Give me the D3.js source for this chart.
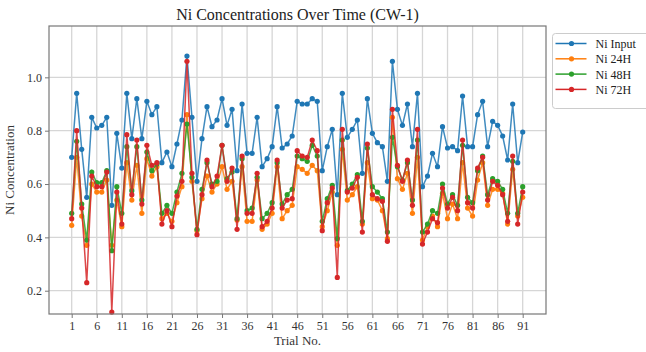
<!DOCTYPE html>
<html>
<head>
<meta charset="utf-8">
<script src="https://cdn.jsdelivr.net/npm/d3@7/dist/d3.min.js"></script>
<style>
  html, body { margin: 0; padding: 0; background: #fff; }
  svg { display: block; font-family: "Liberation Serif", "Times New Roman", serif; }
</style>
</head>
<body>
<svg id="chart" width="646" height="352"></svg>
<script>
// Trial numbers 1..91
const trials = d3.range(1, 92);

const niInput = [0.70,0.94,0.73,0.55,0.85,0.81,0.82,0.85,0.52,0.79,
  0.66,0.94,0.77,0.92,0.77,0.91,0.86,0.89,0.68,0.72,
  0.665,0.75,0.84,1.08,0.85,0.61,0.77,0.89,0.815,0.84,
  0.92,0.82,0.88,0.65,0.90,0.715,0.715,0.85,0.665,0.695,
  0.74,0.89,0.735,0.75,0.78,0.91,0.90,0.90,0.92,0.91,
  0.65,0.74,0.805,0.56,0.94,0.775,0.805,0.84,0.64,0.92,
  0.79,0.755,0.74,0.61,1.06,0.88,0.82,0.90,0.74,0.94,
  0.59,0.63,0.715,0.665,0.815,0.735,0.74,0.725,0.93,0.74,
  0.74,0.86,0.91,0.74,0.835,0.82,0.78,0.69,0.90,0.68,0.795];

const ni24H = [0.445,0.70,0.48,0.37,0.60,0.57,0.57,0.615,0.37,0.54,
  0.44,0.68,0.54,0.67,0.49,0.695,0.63,0.665,0.47,0.49,
  0.46,0.53,0.59,0.86,0.61,0.425,0.545,0.63,0.57,0.60,
  0.665,0.58,0.61,0.465,0.665,0.46,0.46,0.615,0.43,0.45,
  0.49,0.665,0.47,0.50,0.52,0.665,0.655,0.64,0.67,0.65,
  0.44,0.50,0.57,0.37,0.73,0.54,0.56,0.59,0.45,0.68,
  0.545,0.54,0.50,0.395,0.85,0.62,0.58,0.64,0.49,0.70,
  0.39,0.44,0.48,0.44,0.565,0.47,0.525,0.47,0.68,0.51,
  0.48,0.615,0.68,0.52,0.58,0.58,0.565,0.45,0.655,0.48,0.55];

const ni48H = [0.49,0.76,0.525,0.39,0.645,0.605,0.605,0.65,0.35,0.59,
  0.49,0.74,0.575,0.74,0.54,0.72,0.65,0.675,0.49,0.52,
  0.49,0.57,0.64,0.825,0.625,0.43,0.58,0.68,0.60,0.61,
  0.745,0.62,0.645,0.47,0.695,0.50,0.51,0.625,0.47,0.49,
  0.53,0.68,0.525,0.56,0.58,0.705,0.695,0.685,0.745,0.705,
  0.46,0.545,0.595,0.395,0.765,0.575,0.60,0.635,0.46,0.735,
  0.59,0.57,0.545,0.42,0.775,0.665,0.615,0.68,0.54,0.765,
  0.42,0.45,0.50,0.49,0.60,0.525,0.56,0.52,0.745,0.55,
  0.53,0.65,0.705,0.56,0.62,0.61,0.58,0.49,0.685,0.49,0.59];

const ni72H = [0.47,0.80,0.51,0.23,0.63,0.59,0.59,0.645,0.12,0.57,
  0.45,0.785,0.56,0.765,0.525,0.745,0.67,0.68,0.45,0.50,
  0.44,0.555,0.61,1.06,0.64,0.41,0.56,0.69,0.59,0.63,
  0.745,0.61,0.66,0.43,0.705,0.49,0.49,0.64,0.44,0.46,
  0.51,0.69,0.51,0.54,0.545,0.725,0.705,0.70,0.765,0.725,
  0.425,0.53,0.585,0.25,0.805,0.57,0.585,0.625,0.42,0.75,
  0.56,0.545,0.535,0.385,0.88,0.67,0.61,0.69,0.52,0.805,
  0.375,0.42,0.47,0.455,0.585,0.51,0.55,0.50,0.765,0.53,
  0.51,0.66,0.70,0.54,0.61,0.595,0.56,0.46,0.705,0.45,0.57];

const seriesNames = ["Ni Input", "Ni 24H", "Ni 48H", "Ni 72H"];
const seriesColors = ["#1f77b4", "#ff7f0e", "#2ca02c", "#d62728"];
const xTickValues = d3.range(1, 92, 5);
const yTickValues = [0.2, 0.4, 0.6, 0.8, 1.0];

const series = [niInput, ni24H, ni48H, ni72H].map((vals, i) => ({
  name: seriesNames[i], color: seriesColors[i],
  points: trials.map((t, j) => ({ t, v: vals[j] }))
}));

const svg = d3.select("#chart");
const plot = { left: 49, right: 546, top: 26, bottom: 314 };

const x = d3.scaleLinear().domain([-3.53, 95.65]).range([plot.left, plot.right]);
const y = d3.scaleLinear().domain([0.1127, 1.1925]).range([plot.bottom, plot.top]);

// grid
const grid = svg.append("g");
grid.selectAll("line.vx").data(xTickValues).join("line")
  .attr("x1", d => x(d)).attr("x2", d => x(d))
  .attr("y1", plot.top).attr("y2", plot.bottom)
  .attr("stroke", "#d6d6d6").attr("stroke-width", 1.3);
grid.selectAll("line.hy").data(yTickValues).join("line")
  .attr("x1", plot.left).attr("x2", plot.right)
  .attr("y1", d => y(d)).attr("y2", d => y(d))
  .attr("stroke", "#d6d6d6").attr("stroke-width", 1.3);

// axes
const xAxis = d3.axisBottom(x).tickValues(xTickValues).tickSize(4).tickPadding(3).tickFormat(d3.format("d"));
const yAxis = d3.axisLeft(y).tickValues(yTickValues).tickSize(4).tickPadding(3).tickFormat(d3.format(".1f"));

const gx = svg.append("g").attr("transform", `translate(0,${plot.bottom})`).call(xAxis);
const gy = svg.append("g").attr("transform", `translate(${plot.left},0)`).call(yAxis);
[gx, gy].forEach(g => {
  g.select(".domain").remove();
  g.selectAll(".tick line").attr("stroke", "#777");
  g.selectAll(".tick text").attr("fill", "#333").style("font-size", "12px")
    .style("font-family", "'Liberation Serif', serif");
});

// series lines and markers
const line = d3.line().x(d => x(d.t)).y(d => y(d.v));
const sg = svg.append("g");
series.forEach(s => {
  sg.append("path").datum(s.points)
    .attr("fill", "none").attr("stroke", s.color).attr("stroke-width", 1.5)
    .attr("stroke-opacity", 0.85).attr("d", line);
  sg.append("g").selectAll("circle").data(s.points).join("circle")
    .attr("cx", d => x(d.t)).attr("cy", d => y(d.v)).attr("r", 2.6)
    .attr("fill", s.color);
});

// frame
svg.append("rect")
  .attr("x", plot.left).attr("y", plot.top)
  .attr("width", plot.right - plot.left).attr("height", plot.bottom - plot.top)
  .attr("fill", "none").attr("stroke", "#777").attr("stroke-width", 1.2);

// title and axis labels
svg.append("text").attr("x", (plot.left + plot.right) / 2).attr("y", 20)
  .attr("text-anchor", "middle").style("font-size", "16px").attr("fill", "#222")
  .text("Ni Concentrations Over Time (CW-1)");
svg.append("text").attr("x", (plot.left + plot.right) / 2).attr("y", 345)
  .attr("text-anchor", "middle").style("font-size", "13px").attr("fill", "#333")
  .text("Trial No.");
svg.append("text").attr("transform", `translate(14,${(plot.top + plot.bottom) / 2}) rotate(-90)`)
  .attr("text-anchor", "middle").style("font-size", "13px").attr("fill", "#333")
  .text("Ni Concentration");

// legend
const lg = svg.append("g").attr("transform", "translate(552.5,33.5)");
lg.append("rect").attr("width", 110).attr("height", 75).attr("rx", 3)
  .attr("fill", "#fff").attr("stroke", "#ccc").attr("stroke-width", 1);
series.forEach((s, i) => {
  const row = lg.append("g").attr("transform", `translate(0,${10 + i * 15.3})`);
  row.append("line").attr("x1", 3).attr("x2", 34).attr("stroke", s.color).attr("stroke-width", 1.5);
  row.append("circle").attr("cx", 19).attr("r", 2.6).attr("fill", s.color);
  row.append("text").attr("x", 43).attr("y", 4.5).style("font-size", "12px").attr("fill", "#222").text(s.name);
});
</script>
</body>
</html>
